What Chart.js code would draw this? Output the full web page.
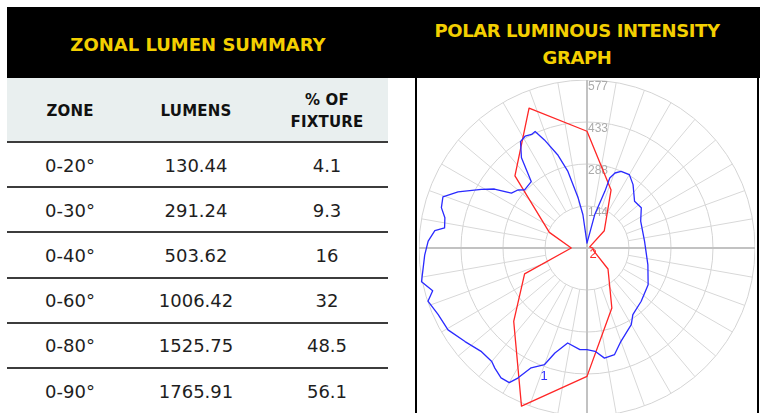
<!DOCTYPE html>
<html><head><meta charset="utf-8">
<script src="https://cdn.jsdelivr.net/npm/chart.js@4.4.1/dist/chart.umd.min.js"></script>
<style>
html,body{margin:0;padding:0;background:#fff;width:765px;height:413px;overflow:hidden;position:relative;font-family:"DejaVu Sans",sans-serif;}
#band{position:absolute;left:7px;top:7px;width:753px;height:71px;background:#000;}
.title{position:absolute;color:#f3cf00;font-weight:bold;font-size:18px;text-align:center;line-height:27px;white-space:nowrap;transform:translate(-50%,-50%);}
#thead{position:absolute;left:7px;top:78px;width:381px;height:63px;background:#e9efef;}
.hl{position:absolute;left:7px;width:381px;height:2px;background:#3c3c3c;}
.cell{position:absolute;transform:translate(-50%,-50%);white-space:nowrap;font-size:18px;color:#1e1e1e;}
.hcell{position:absolute;transform:translate(-50%,-50%);white-space:nowrap;font-size:15px;font-weight:bold;color:#111;text-align:center;line-height:22px;letter-spacing:0.2px;}
#box{position:absolute;left:415px;top:78px;width:340px;height:340px;border-left:2px solid #000;border-right:2px solid #000;}
#wrap{position:absolute;left:419px;top:80px;width:336px;height:336px;}
</style></head>
<body>
<div id="band"></div>
<div class="title" style="left:198px;top:44px;">ZONAL LUMEN SUMMARY</div>
<div class="title" style="left:577px;top:44px;letter-spacing:-0.4px;">POLAR LUMINOUS INTENSITY<br>GRAPH</div>
<div id="thead"></div>
<div id="table"></div>
<div id="box"></div>
<div id="wrap"><canvas id="c"></canvas></div>
<script>
// ---- table data ----
const headers = ["ZONE", "LUMENS", "% OF<br>FIXTURE"];
const zones = ["0-20°", "0-30°", "0-40°", "0-60°", "0-80°", "0-90°"];
const lumens = ["130.44", "291.24", "503.62", "1006.42", "1525.75", "1765.91"];
const percents = ["4.1", "9.3", "16", "32", "48.5", "56.1"];

// ---- polar data (angle in degrees, 0 = bottom, clockwise) ----
const ringValues = [144.25, 288.5, 432.75, 577];
const ringLabels = ["144", "288", "433", "577"];
const seriesNames = ["1", "2"];

const blueAngles = [0,4,11.5,17,20,25,28,30,33.5,37.5,40,45.5,52.5,59.5,66,71.5,74.5,78.5,83,87.5,92.5,96.5,98,102,105.5,109.5,113.5,119,122.5,126,130,133,140,144,148,151,154,156,158.5,162.5,166,170,173,180,193,197.5,198,200.5,204,210,216,225.5,233.5,243.5,263.5,285.5,301,314.5,325.5,330,340,345.5,351,355.5];
const blueValues = [349,350,333,377,426,454,506,534,535,520,509,508,528,554,560,576,550,580,567,558,546,526,494,499,519,525,483,415,377,321,310,293,298,383,431,439,434,438,399,336,271,174,115,17,117,204,253,275,288,291,269,229,232,206,199,217,245,261,278,304,341,378,383,356];

const redAngles = [0,22.5,45,67.5,90,112.5,135,157.5,180,202.5,225,247.5,270,292.5,315,337.5];
const redValues = [441,588,356,232,54,140,350,520,401,216,84,10,20,25,102,223];

// ---- build table ----
const colX = [70, 196, 327];
const rowTop = 141, rowH = 45.2;
const tb = document.getElementById('table');
function add(cls, html, x, y){ const d=document.createElement('div'); d.className=cls; d.innerHTML=html; d.style.left=x+'px'; d.style.top=y+'px'; tb.appendChild(d); }
headers.forEach((h,i)=> add('hcell', h, colX[i], 111));
for (let r=0;r<zones.length;r++){
  const hl=document.createElement('div'); hl.className='hl'; hl.style.top=(rowTop + r*rowH)+'px'; tb.appendChild(hl);
  const cy = rowTop + r*rowH + rowH/2 + 1;
  add('cell', zones[r], colX[0], cy);
  add('cell', lumens[r], colX[1], cy);
  add('cell', percents[r], colX[2], cy);
}

// ---- build polar ----
const STEP = 0.5, N = 720;
const labels = Array.from({length:N}, (_,i)=> i*STEP);
function place(angles, values){
  const arr = new Array(N).fill(null);
  angles.forEach((a,k)=>{ arr[Math.round(a/STEP)%N] = values[k]; });
  return arr;
}
const seriesLabelPos = [{angle:18.5, value:465, color:'#3030ff'}, {angle:318, value:31, color:'#ff2a2a'}];

const polarText = {
  id:'polarText',
  beforeDatasetsDraw(chart){
    const s = chart.scales.r, ctx = chart.ctx;
    ctx.save();
    ctx.font = '12px "Liberation Sans", Arial, sans-serif';
    ctx.fillStyle = '#ababab';
    ctx.textAlign = 'left'; ctx.textBaseline = 'top';
    ringValues.forEach((v,i)=>{
      const d = s.getDistanceFromCenterForValue(v);
      ctx.fillText(ringLabels[i], s.xCenter + 1, s.yCenter - d + 1);
    });
    ctx.restore();
  },
  afterDatasetsDraw(chart){
    const s = chart.scales.r, ctx = chart.ctx;
    ctx.save();
    ctx.font = '13px "Liberation Sans", Arial, sans-serif';
    ctx.textAlign = 'center'; ctx.textBaseline = 'middle';
    seriesLabelPos.forEach((p,i)=>{
      const pt = s.getPointPositionForValue(Math.round(p.angle/STEP), p.value);
      ctx.fillStyle = p.color;
      ctx.fillText(seriesNames[i], pt.x, pt.y);
    });
    ctx.restore();
  }
};

new Chart(document.getElementById('c'), {
  type: 'radar',
  data: {
    labels,
    datasets: [
      {label: seriesNames[0], data: place(blueAngles, blueValues), borderColor:'#2a2aff', borderWidth:1.3, pointRadius:0, fill:false, spanGaps:true, tension:0},
      {label: seriesNames[1], data: place(redAngles, redValues), borderColor:'#ff2626', borderWidth:1.3, pointRadius:0, fill:false, spanGaps:true, tension:0}
    ]
  },
  options: {
    responsive:true, maintainAspectRatio:false, animation:false,
    layout:{padding:0},
    plugins:{legend:{display:false}, tooltip:{enabled:false}},
    elements:{line:{borderJoinStyle:'round'}},
    scales:{
      r:{
        min:0, max:577, startAngle:180,
        ticks:{display:false, stepSize:144.25},
        pointLabels:{display:false},
        grid:{circular:true, color:'#d4d4d4', lineWidth:1},
        angleLines:{
          color:(c)=> c.index % 20 === 0 ? (c.index % 180 === 0 ? '#c2c2c2' : '#d8d8d8') : 'rgba(0,0,0,0)',
          lineWidth:(c)=> c.index % 20 === 0 ? (c.index % 180 === 0 ? 2 : 1) : 0,
          borderDash:(c)=> {
            if (c.index % 180 === 0) return [];
            const s = c.chart.scales.r;
            return [0, s.getDistanceFromCenterForValue(ringValues[0]), 1000];
          }
        }
      }
    }
  },
  plugins:[polarText]
});
</script>
</body></html>
